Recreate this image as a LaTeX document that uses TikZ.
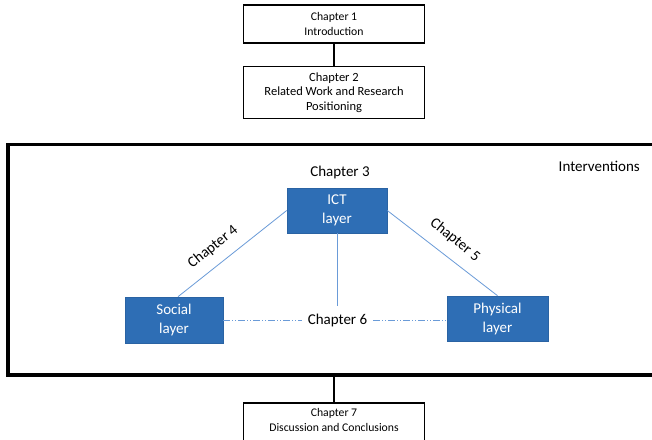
\documentclass[tikz,border=0pt]{standalone}
\usepackage{fontspec}
\setmainfont{Carlito}
\definecolor{layerblue}{HTML}{2E6EB5}
\definecolor{layeredge}{HTML}{2A63A3}
\definecolor{linkblue}{HTML}{6A9BD8}
\begin{document}
\begin{tikzpicture}[x=1pt,y=-1pt,
  chbox/.style={draw=black, line width=1.6pt, minimum width=181pt, inner sep=0pt, align=center,
    font=\fontsize{12.5}{14.5}\selectfont},
  chtext/.style={align=center, inner sep=0pt, font=\fontsize{11.7}{15}\selectfont},
  layerbox/.style={fill=layerblue, draw=layeredge, line width=0.6pt, text=white, align=center,
    minimum width=100pt, minimum height=45pt, inner sep=0pt,
    font=\fontsize{15}{19}\selectfont},
  plain/.style={inner sep=0pt, font=\fontsize{15}{18}\selectfont},
  tie/.style={draw=black, line width=2pt},
  link/.style={draw=linkblue, line width=0.8pt},
  dlink/.style={draw=linkblue, line width=0.8pt, dash pattern=on 7pt off 2pt on 1pt off 2pt on 1pt off 2pt},
  bigbox/.style={draw=black, line width=3.6pt, minimum width=652pt, minimum height=230.5pt, inner sep=0pt}
]
\clip (0,0) rectangle (652,439);
\fill[white] (0,0) rectangle (652,439);

% top chapter boxes
\node[chbox, minimum height=38pt, font=\fontsize{11.7}{15}\selectfont] (c1) at (334,24) {Chapter 1\\Introduction};
\node[chbox, minimum height=52pt] (c2) at (334,92.5) {Chapter 2\\Related Work and Research\\Positioning};

% interventions frame
\node[bigbox] (iv) at (334,259.75) {};
\node[plain, anchor=east] (ivl) at (640,166.5) {Interventions};

% chapter 7
\node[chbox, minimum height=50pt, anchor=north] (c7) at (334,402) {};
\node[chtext] (c7t) at (334,419.5) {Chapter 7\\Discussion and Conclusions};

\draw[tie] (c1.south) -- (c2.north);
\draw[tie] (iv.south) -- (c7.north);

% layers
\node[plain] (c3) at (340,172) {Chapter 3};
\node[layerbox] (ict) at (337,210.5) {ICT\\layer};
\node[layerbox, minimum width=98pt, minimum height=46pt] (soc) at (174,320) {Social\\layer};
\node[layerbox, minimum width=101pt] (phy) at (497.5,318.5) {Physical\\layer};

\coordinate (mid) at (337,306);
\node[plain, inner xsep=6pt, inner ysep=2pt, fill=white] (c6) at (337.5,320) {Chapter 6};

\draw[link] (ict.west) -- ([xshift=4pt]soc.north);
\draw[link] (ict.east) -- (phy.north);
\draw[link] (ict.south) -- (mid);
\draw[dlink] (soc.east) -- (c6.west);
\draw[dlink] (c6.east) -- (phy.west |- c6.east);

\node[plain, rotate=39] (c4) at (213,247) {Chapter 4};
\node[plain, rotate=-39] (c5) at (455,240) {Chapter 5};
\end{tikzpicture}
\end{document}
